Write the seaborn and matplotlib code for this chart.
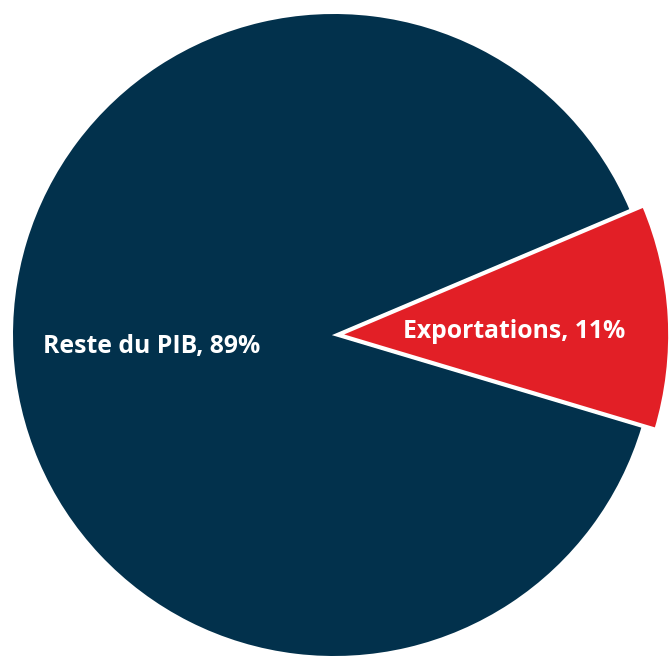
import matplotlib
matplotlib.use("Agg")
import matplotlib.pyplot as plt
import seaborn as sns

categories = ["Exportations", "Reste du PIB"]
values = [11, 89]
colors = ["#E21F26", "#02314C"]

sns.set_theme(style="white")
plt.rcParams['font.family'] = ['Open Sans', 'DejaVu Sans']

fig = plt.figure(figsize=(6.72, 6.56), dpi=100)
ax = fig.add_axes([0, 0, 1, 1])

labels = [f"{c}, {v}%" for c, v in zip(categories, values)]
wedges, texts = ax.pie(values, labels=labels, colors=colors, startangle=-16.65,
                       counterclock=True, explode=[0.0125, 0],
                       labeldistance=0.57,
                       wedgeprops=dict(edgecolor="white", linewidth=0),
                       textprops=dict(color="white", fontsize=17.8, fontweight="bold",
                                      ha="center", va="center"))
# red slice drawn slightly larger with white border, on top
wedges[0].set_radius(1.035)
wedges[0].set_linewidth(3)
wedges[0].set_zorder(3)
wedges[1].set_zorder(2)
for t in texts:
    t.set_zorder(5)
x0, y0 = texts[0].get_position()
texts[0].set_position((x0 - 0.022, y0 - 0.022))
x1, y1 = texts[1].get_position()
texts[1].set_position((x1, y1 - 0.006))

ax.set_aspect('auto')
ax.set_xlim(-1.0405, 1.0530)
ax.set_ylim(-1.0000, 1.0436)
ax.axis('off')

fig.savefig("out.png", dpi=100)
